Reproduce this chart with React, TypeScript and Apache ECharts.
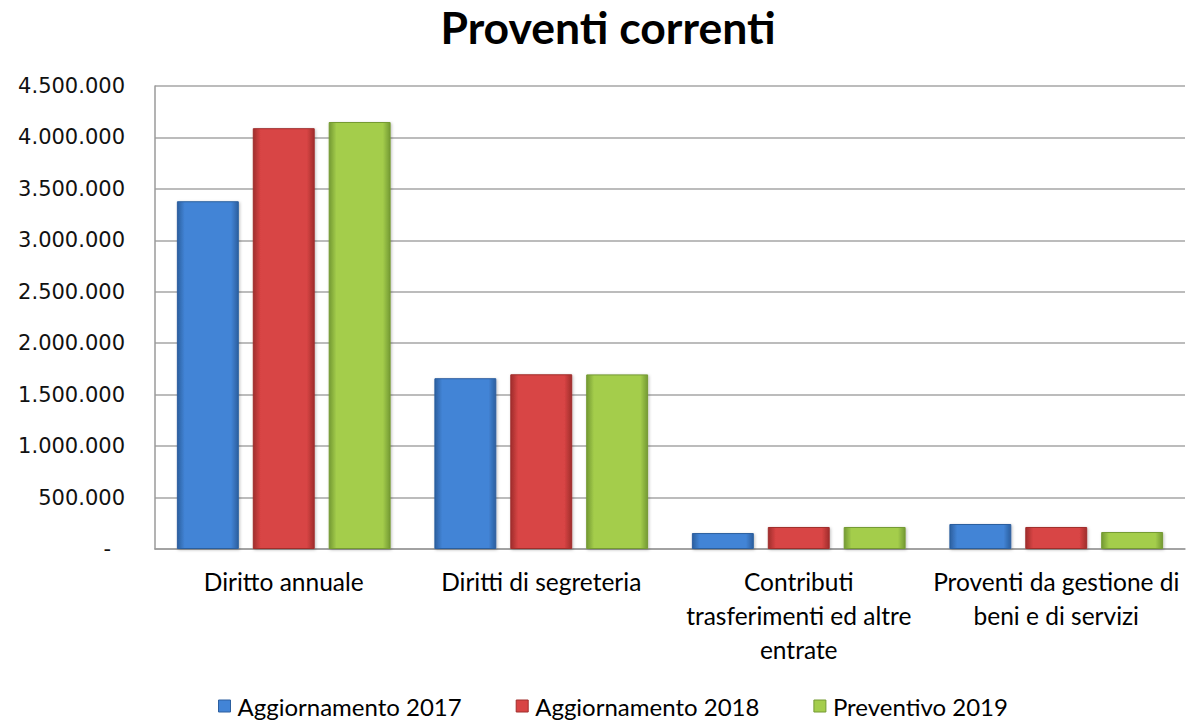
import React, { useEffect, useRef } from "react";
import * as echarts from "echarts";

const categories = [
  "Diritto annuale",
  "Diritti di segreteria",
  "Contributi\ntrasferimenti ed altre\nentrate",
  "Proventi da gestione di\nbeni e di servizi",
];
const seriesNames = ["Aggiornamento 2017", "Aggiornamento 2018", "Preventivo 2019"];
const agg2017 = [3380000, 1660000, 155000, 243000];
const agg2018 = [4090000, 1698000, 214000, 214000];
const prev2019 = [4150000, 1697000, 214000, 165000];
const yTicks = { min: 0, max: 4500000, interval: 500000 };

const palettes = [
  { edge: "#2c5f9f", mid: "#4284d6" },
  { edge: "#a02e2c", mid: "#d84444" },
  { edge: "#749a33", mid: "#a4cd4c" },
];

function fmt(v: number): string {
  if (v === 0) return "{z|-}";
  return String(Math.round(v)).replace(/\B(?=(\d{3})+(?!\d))/g, ".");
}

function grad(p: { edge: string; mid: string }) {
  return new echarts.graphic.LinearGradient(0, 0, 1, 0, [
    { offset: 0, color: p.edge },
    { offset: 0.12, color: p.mid },
    { offset: 0.88, color: p.mid },
    { offset: 1, color: p.edge },
  ]);
}

export default function App() {
  const ref = useRef<HTMLDivElement>(null);
  useEffect(() => {
    if (!ref.current) return;
    const chart = echarts.init(ref.current, undefined, { renderer: "svg" });
    const data = [agg2017, agg2018, prev2019];
    chart.setOption({
      animation: false,
      backgroundColor: "#ffffff",
      title: {
        text: "Proventi correnti",
        left: 603,
        textAlign: "center",
        top: -1,
        textStyle: { fontFamily: "Lato", fontWeight: "bold", fontSize: 44.5, color: "#000" },
      },
      legend: {
        top: 694,
        left: 218,
        itemWidth: 12,
        itemHeight: 12,
        itemGap: 54,
        icon: "rect",
        padding: 0,
        textStyle: { fontFamily: "Lato", fontSize: 24, lineHeight: 24, color: "#000", padding: [0, 0, 0, 2] },
        data: seriesNames.map((n, i) => ({ name: n, itemStyle: { color: palettes[i].mid, borderColor: palettes[i].edge, borderWidth: 1 } })),
      },
      grid: { left: 155, right: 1, top: 86, bottom: 171, containLabel: false },
      xAxis: {
        type: "category",
        data: categories,
        axisLine: { lineStyle: { color: "#9a9a9a", width: 1.5 } },
        axisTick: { show: false },
        axisLabel: {
          interval: 0,
          margin: 15,
          fontFamily: "Lato",
          fontSize: 24.5,
          color: "#000",
          lineHeight: 34,
        },
      },
      yAxis: {
        type: "value",
        min: yTicks.min,
        max: yTicks.max,
        interval: yTicks.interval,
        axisLine: { show: true, lineStyle: { color: "#9a9a9a", width: 1.5 } },
        axisTick: { show: false },
        splitLine: { lineStyle: { color: "#a6a6a6", width: 1.5 } },
        axisLabel: {
          margin: 30,
          fontFamily: "DejaVu Sans",
          fontSize: 21,
          color: "#111",
          formatter: fmt,
          rich: { z: { fontFamily: "DejaVu Sans", fontSize: 21, color: "#111", padding: [0, 14, 0, 0] } },
        },
      },
      series: seriesNames.map((name, i) => ({
        name,
        type: "bar",
        data: data[i],
        barGap: "22.6%",
        barCategoryGap: "17%",
        itemStyle: {
          color: grad(palettes[i]),
          borderColor: palettes[i].edge,
          borderWidth: 1,
          shadowColor: "rgba(0,0,0,0.25)",
          shadowBlur: 3,
          shadowOffsetX: 1,
          shadowOffsetY: 1,
        },
      })),
    });
    return () => chart.dispose();
  }, []);
  return (
    <div
      ref={ref}
      style={{ position: "fixed", left: 0, top: 0, width: 1186, height: 720 }}
    />
  );
}
